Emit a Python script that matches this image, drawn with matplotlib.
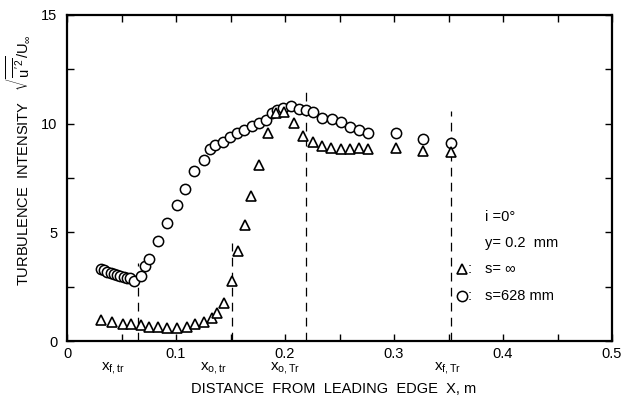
import numpy as np
import matplotlib
matplotlib.use('Agg')
import matplotlib.pyplot as plt
from matplotlib.transforms import blended_transform_factory

plt.rcParams['font.family'] = ['Liberation Sans Narrow', 'Liberation Sans', 'DejaVu Sans']
plt.rcParams['mathtext.fontset'] = 'custom'
plt.rcParams['mathtext.rm'] = 'Liberation Sans'
plt.rcParams['mathtext.it'] = 'Liberation Sans'

# s = 628 mm (circles)
x_circ = [0.031, 0.034, 0.037, 0.040, 0.043, 0.046, 0.049, 0.052, 0.055, 0.058,
          0.0615, 0.068, 0.072, 0.0755, 0.0835, 0.0915, 0.1006, 0.1086, 0.1165,
          0.1257, 0.131, 0.136, 0.1428, 0.1495, 0.1557, 0.162, 0.1694, 0.176,
          0.1826, 0.1878, 0.193, 0.1985, 0.2055, 0.213, 0.2195, 0.226, 0.234,
          0.243, 0.2514, 0.2596, 0.268, 0.2764, 0.3018, 0.3269, 0.352]
y_circ = [3.30, 3.25, 3.18, 3.12, 3.07, 3.03, 2.98, 2.95, 2.92, 2.90,
          2.78, 2.99, 3.45, 3.78, 4.60, 5.42, 6.26, 7.00, 7.80,
          8.32, 8.85, 9.02, 9.17, 9.40, 9.55, 9.70, 9.89, 10.05,
          10.17, 10.50, 10.63, 10.71, 10.82, 10.66, 10.63, 10.52, 10.25,
          10.20, 10.09, 9.83, 9.71, 9.59, 9.59, 9.31, 9.13]

# s = infinity (triangles)
x_tri = [0.031, 0.041, 0.051, 0.059, 0.0676, 0.0755, 0.0838, 0.092, 0.1012,
         0.1098, 0.1174, 0.126, 0.1327, 0.138, 0.144, 0.1515, 0.157, 0.163,
         0.169, 0.176, 0.184, 0.192, 0.199, 0.2085, 0.2168, 0.2254, 0.2337,
         0.242, 0.251, 0.2596, 0.268, 0.2764, 0.302, 0.327, 0.352]
y_tri = [0.96, 0.89, 0.80, 0.80, 0.72, 0.65, 0.65, 0.60, 0.60,
         0.65, 0.78, 0.87, 1.04, 1.30, 1.76, 2.75, 4.14, 5.36,
         6.66, 8.12, 9.58, 10.50, 10.55, 10.04, 9.42, 9.17, 8.97,
         8.87, 8.82, 8.82, 8.87, 8.82, 8.87, 8.76, 8.71]

# transition markers: position, top of dashed line, label
x_marks = [0.0655, 0.151, 0.2195, 0.352]
y_marks_top = [3.6, 4.5, 11.7, 10.6]
mark_labels = [r'$\mathrm{x}_{\mathrm{f,tr}}$', r'$\mathrm{x}_{\mathrm{o,tr}}$',
               r'$\mathrm{x}_{\mathrm{o,Tr}}$', r'$\mathrm{x}_{\mathrm{f,Tr}}$']
label_x = [0.031, 0.122, 0.186, 0.337]

fig = plt.figure(figsize=(6.25, 4.01), dpi=100)
ax = fig.add_axes([0.1072, 0.1496, 0.872, 0.813])

for xm, ym in zip(x_marks, y_marks_top):
    ax.plot([xm, xm], [0, ym], color='black', lw=0.9, dashes=(7, 5), zorder=1)

ax.plot(x_circ, y_circ, 'o', mfc='white', mec='black', ms=7.4, mew=1.1, zorder=3)
ax.plot(x_tri, y_tri, '^', mfc='white', mec='black', ms=6.5, mew=1.2, zorder=4)

ax.set_xlim(0, 0.5)
ax.set_ylim(0, 15)
ax.set_xticks(np.arange(0, 0.501, 0.05))
ax.set_xticklabels(['0', '', '0.1', '', '0.2', '', '0.3', '', '0.4', '', '0.5'])
ax.set_yticks(np.arange(0, 15.01, 2.5))
ax.set_yticklabels(['0', '', '5', '', '10', '', '15'])
ax.tick_params(direction='in', length=5, width=1.0, top=True, right=True,
               labelsize=10.5)
ax.tick_params(axis='x', pad=4)
ax.tick_params(axis='y', pad=7)
for sp in ax.spines.values():
    sp.set_linewidth(1.6)

trans = blended_transform_factory(ax.transData, ax.transAxes)
for lx, lab in zip(label_x, mark_labels):
    ax.text(lx, -0.082, lab, transform=trans, ha='left', va='center',
            fontsize=11, clip_on=False)

ax.set_xlabel('DISTANCE  FROM  LEADING  EDGE  X, m', fontsize=10.5)
ax.xaxis.set_label_coords(0.49, -0.125)
ax.set_ylabel(r"TURBULENCE  INTENSITY   $\sqrt{\overline{u'^{2}}}/U_{\infty}$",
              fontsize=10.5)
ax.yaxis.set_label_coords(-0.064, 0.555)

# condition notes with symbol keys
ax.text(0.3835, 5.72, 'i =0°', fontsize=10.5, va='center')
ax.text(0.3835, 4.52, 'y= 0.2  mm', fontsize=10.5, va='center')
ax.plot(0.3625, 3.30, '^', mfc='white', mec='black', ms=6.5, mew=1.2)
ax.text(0.368, 3.30, ':', fontsize=10.5, va='center')
ax.text(0.3835, 3.30, 's= ∞', fontsize=10.5, va='center')
ax.plot(0.3625, 2.07, 'o', mfc='white', mec='black', ms=7.4, mew=1.1)
ax.text(0.368, 2.07, ':', fontsize=10.5, va='center')
ax.text(0.3835, 2.07, 's=628 mm', fontsize=10.5, va='center')

fig.savefig('out.png', dpi=100)
